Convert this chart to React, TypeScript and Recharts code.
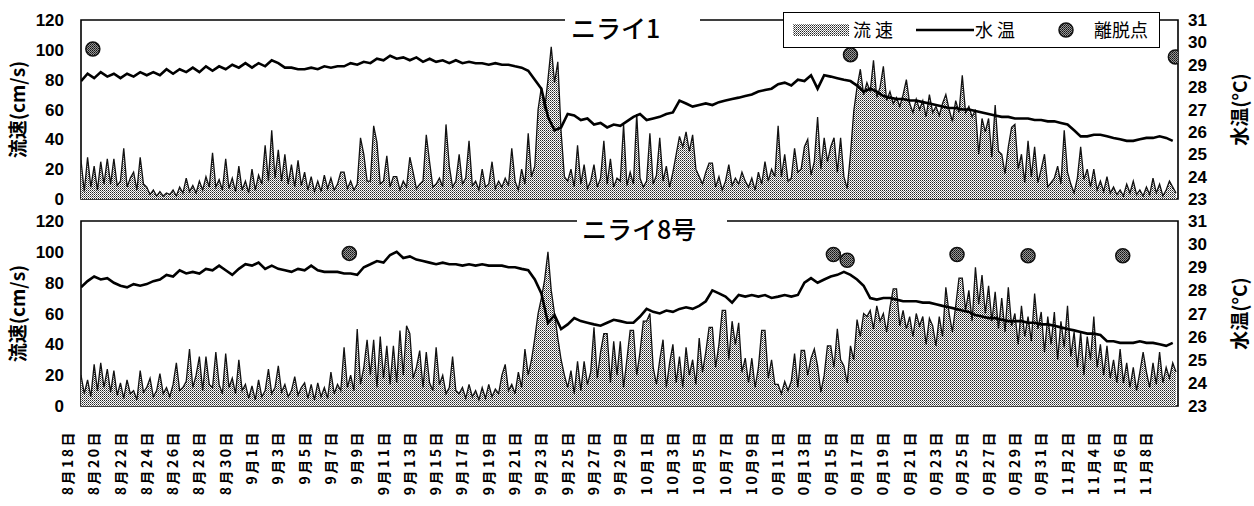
import { ComposedChart, Area, Line, Scatter, XAxis, YAxis, ReferenceArea } from "recharts"

const NUM_FONT = "'Liberation Sans', Arial, sans-serif"
const JP_FONT = "'Noto Sans CJK JP', 'Noto Sans CJK SC', sans-serif"

// x axis: days counted from 8/18, one label every 2 days
const dateLabels = [
  "8月18日", "8月20日", "8月22日", "8月24日", "8月26日", "8月28日", "8月30日",
  "9月1日", "9月3日", "9月5日", "9月7日", "9月9日", "9月11日", "9月13日", "9月15日",
  "9月17日", "9月19日", "9月21日", "9月23日", "9月25日", "9月27日", "9月29日",
  "10月1日", "10月3日", "10月5日", "10月7日", "10月9日",
  "0月11日", "0月13日", "0月15日", "0月17日", "0月19日", "0月21日", "0月23日",
  "0月25日", "0月27日", "0月29日", "0月31日",
  "11月2日", "11月4日", "11月6日", "11月8日",
]
const dateTicks = dateLabels.map((_, i) => i * 2)
const flowTicks = [0, 20, 40, 60, 80, 100, 120]
const tempTicks = [23, 24, 25, 26, 27, 28, 29, 30, 31]

// ニライ1 : 流速 (cm/s) every 6 hours from 8/19 0:00
const flow1 = [
  26, 5, 28, 8, 22, 6, 25, 10, 27, 10, 27, 9, 12, 34, 8, 14, // 8/19-
  18, 6, 28, 10, 8, 3, 6, 2, 5, 2, 4, 3, 6, 2, 8, 4, // 8/23-
  14, 5, 9, 4, 12, 6, 15, 8, 31, 8, 13, 6, 27, 7, 14, 5, // 8/27-
  22, 6, 12, 4, 20, 6, 16, 10, 36, 12, 46, 14, 33, 12, 30, 10, // 8/31-
  23, 8, 26, 9, 18, 6, 15, 5, 12, 5, 16, 7, 14, 6, 10, 18, // 9/4-
  18, 7, 12, 6, 10, 41, 30, 12, 12, 49, 38, 10, 12, 29, 8, 15, // 9/8-
  15, 6, 12, 8, 28, 18, 7, 10, 12, 43, 25, 8, 10, 14, 8, 50, // 9/12-
  22, 8, 12, 30, 10, 14, 39, 9, 12, 6, 20, 8, 10, 25, 7, 12, // 9/16-
  8, 14, 9, 34, 12, 6, 20, 10, 44, 15, 22, 60, 75, 60, 80, 102, // 9/20-
  78, 92, 45, 15, 12, 20, 8, 36, 10, 23, 7, 12, 23, 8, 14, 39, // 9/24-
  10, 27, 8, 14, 12, 50, 9, 18, 10, 57, 14, 8, 12, 44, 10, 16, // 9/28-
  41, 12, 22, 8, 18, 30, 42, 35, 45, 32, 43, 20, 15, 10, 18, 24, // 10/2-
  24, 8, 15, 6, 12, 23, 9, 14, 10, 18, 12, 8, 14, 6, 18, 10, // 10/6-
  25, 12, 20, 15, 49, 15, 30, 12, 14, 34, 18, 20, 35, 40, 16, 25, // 10/10-
  55, 20, 41, 25, 35, 41, 18, 41, 15, 7, 30, 59, 75, 87, 70, 78, // 10/14-
  72, 93, 68, 75, 89, 66, 72, 64, 68, 62, 70, 80, 64, 58, 67, 60, // 10/18-
  66, 55, 70, 58, 62, 56, 64, 70, 60, 52, 66, 58, 83, 58, 62, 55, // 10/22-
  60, 30, 54, 45, 54, 28, 63, 32, 30, 17, 35, 48, 50, 20, 30, 11, // 10/26-
  39, 15, 35, 11, 20, 30, 8, 11, 14, 22, 10, 46, 18, 10, 4, 14, // 10/30-
  35, 13, 20, 8, 20, 6, 12, 5, 15, 4, 8, 3, 6, 2, 10, 4, // 11/3-
  12, 3, 6, 2, 8, 3, 14, 4, 10, 2, 6, 12, 8, 4, // 11/7-
]

// ニライ1 : 水温 (°C) every 12 hours from 8/19 0:00
const temp1 = [
  28.27, 28.6, 28.4, 28.67, 28.47, 28.6, 28.4, 28.6,
  28.47, 28.67, 28.53, 28.67, 28.53, 28.8, 28.6, 28.8,
  28.67, 28.87, 28.67, 28.93, 28.73, 28.93, 28.8, 29.0,
  28.87, 29.07, 28.87, 29.07, 28.93, 29.2, 29.07, 28.87,
  28.87, 28.8, 28.8, 28.87, 28.8, 28.93, 28.87, 28.93,
  28.93, 29.07, 29.0, 29.13, 29.07, 29.27, 29.2, 29.4,
  29.27, 29.33, 29.2, 29.33, 29.13, 29.27, 29.13, 29.2,
  29.07, 29.2, 29.07, 29.13, 29.07, 29.07, 29.0, 29.07,
  29.0, 29.0, 28.93, 28.87, 28.73, 28.33, 27.93, 26.67,
  26.07, 26.2, 26.8, 26.73, 26.53, 26.6, 26.33, 26.4,
  26.2, 26.33, 26.27, 26.47, 26.67, 26.8, 26.53, 26.6,
  26.67, 26.8, 26.87, 27.4, 27.27, 27.13, 27.2, 27.27,
  27.2, 27.33, 27.4, 27.47, 27.53, 27.6, 27.67, 27.8,
  27.87, 27.93, 28.13, 28.2, 28.07, 28.33, 28.27, 28.53,
  27.93, 28.53, 28.47, 28.4, 28.33, 28.27, 28.07, 27.8,
  27.93, 27.8, 27.6, 27.53, 27.47, 27.47, 27.4, 27.4,
  27.33, 27.27, 27.2, 27.13, 27.07, 27.07, 27.0, 27.0,
  26.93, 26.87, 26.8, 26.73, 26.67, 26.67, 26.6, 26.6,
  26.6, 26.53, 26.53, 26.47, 26.47, 26.4, 26.33, 26.07,
  25.8, 25.8, 25.87, 25.87, 25.8, 25.73, 25.67, 25.6,
  25.6, 25.67, 25.73, 25.73, 25.8, 25.73, 25.6,
]

// ニライ1 : 離脱点
const exitDays1 = [1.9, 59.5, 84.2]
const exitTemps1 = [29.7, 29.45, 29.35]

// ニライ8号 : 流速 (cm/s) every 6 hours from 8/19 0:00
const flow2 = [
  20, 8, 17, 6, 27, 10, 28, 12, 24, 9, 23, 7, 15, 5, 17, 8, // 8/19-
  10, 4, 23, 9, 12, 18, 6, 10, 21, 8, 12, 6, 14, 28, 10, 12, // 8/23-
  16, 37, 12, 20, 32, 10, 32, 14, 12, 35, 14, 8, 34, 12, 18, 8, // 8/27-
  30, 10, 14, 5, 13, 4, 17, 6, 10, 24, 8, 12, 26, 9, 14, 6, // 8/31-
  10, 19, 7, 12, 15, 5, 14, 4, 15, 6, 12, 5, 22, 8, 14, 10, // 9/4-
  38, 12, 20, 10, 50, 14, 25, 43, 20, 43, 12, 45, 18, 39, 14, 39, // 9/8-
  15, 49, 20, 52, 47, 18, 25, 36, 12, 35, 15, 10, 38, 14, 20, 8, // 9/12-
  12, 32, 10, 8, 12, 5, 14, 6, 10, 4, 12, 5, 14, 6, 11, 8, // 9/16-
  20, 27, 10, 14, 8, 22, 12, 37, 20, 30, 44, 60, 70, 82, 100, 75, // 9/20-
  60, 44, 30, 20, 12, 23, 8, 29, 10, 29, 14, 22, 51, 18, 35, 47, // 9/24-
  47, 15, 42, 20, 42, 12, 30, 49, 49, 20, 35, 55, 55, 60, 25, 14, // 9/28-
  30, 43, 12, 28, 40, 15, 32, 12, 38, 20, 30, 14, 44, 22, 35, 51, // 10/2-
  51, 25, 40, 62, 62, 30, 55, 40, 54, 22, 31, 15, 31, 12, 25, 49, // 10/6-
  49, 18, 30, 14, 14, 8, 16, 10, 16, 34, 12, 36, 36, 20, 31, 37, // 10/10-
  26, 9, 20, 39, 39, 25, 50, 30, 26, 15, 39, 30, 56, 45, 60, 58, // 10/14-
  62, 50, 65, 55, 60, 48, 64, 76, 76, 52, 62, 50, 58, 45, 60, 52, // 10/18-
  58, 40, 57, 52, 39, 58, 45, 77, 60, 48, 65, 83, 83, 62, 75, 55, // 10/22-
  90, 66, 85, 60, 78, 55, 74, 50, 70, 48, 77, 52, 60, 40, 65, 45, // 10/26-
  58, 42, 73, 50, 61, 35, 58, 40, 61, 30, 55, 38, 65, 32, 48, 25, // 10/30-
  48, 20, 45, 30, 58, 25, 40, 20, 39, 18, 30, 15, 37, 15, 28, 12, // 11/3-
  25, 10, 22, 35, 22, 12, 28, 14, 35, 15, 25, 18, 28, 22, // 11/7-
]

// ニライ8号 : 水温 (°C) every 12 hours from 8/19 0:00
const temp2 = [
  28.13, 28.4, 28.6, 28.47, 28.53, 28.33, 28.2, 28.13,
  28.27, 28.2, 28.27, 28.4, 28.47, 28.67, 28.6, 28.87,
  28.73, 28.8, 28.73, 28.93, 28.87, 29.07, 28.87, 28.67,
  28.93, 29.13, 29.07, 29.2, 28.93, 29.07, 28.93, 28.87,
  28.8, 28.93, 28.87, 29.07, 28.87, 28.8, 28.8, 28.8,
  28.73, 28.73, 28.67, 29.0, 29.13, 29.27, 29.2, 29.53,
  29.67, 29.4, 29.47, 29.33, 29.27, 29.2, 29.13, 29.2,
  29.13, 29.13, 29.07, 29.13, 29.07, 29.13, 29.07, 29.07,
  29.07, 29.0, 29.0, 28.93, 28.87, 28.47, 27.87, 26.6,
  26.93, 26.33, 26.53, 26.8, 26.67, 26.6, 26.53, 26.47,
  26.6, 26.73, 26.67, 26.6, 26.6, 26.87, 27.2, 27.07,
  27.0, 27.13, 27.07, 27.2, 27.27, 27.2, 27.33, 27.53,
  28.0, 27.87, 27.73, 27.47, 27.8, 27.73, 27.8, 27.73,
  27.8, 27.67, 27.73, 27.8, 27.73, 27.8, 28.33, 28.53,
  28.33, 28.47, 28.6, 28.67, 28.8, 28.67, 28.47, 28.2,
  27.67, 27.6, 27.67, 27.67, 27.6, 27.53, 27.53, 27.53,
  27.47, 27.47, 27.4, 27.33, 27.27, 27.2, 27.13, 27.07,
  26.93, 26.87, 26.8, 26.8, 26.73, 26.67, 26.67, 26.67,
  26.6, 26.6, 26.53, 26.53, 26.47, 26.4, 26.33, 26.27,
  26.2, 26.13, 26.13, 26.07, 25.8, 25.8, 25.73, 25.73,
  25.73, 25.8, 25.73, 25.73, 25.67, 25.6, 25.73,
]

// ニライ8号 : 離脱点
const exitDays2 = [21.4, 58.2, 59.25, 67.6, 73.0, 80.2]
const exitTemps2 = [29.6, 29.55, 29.3, 29.55, 29.5, 29.5]

const X_DOMAIN: [number, number] = [1, 84.4]

function DateTick(props: any) {
  const { x, y, payload } = props
  const label = dateLabels[Math.round(payload.value / 2)]
  return (
    <g transform={`translate(${x},${y + 24}) rotate(-90)`}>
      <text x={0} y={0} dy="0.36em" textAnchor="end" fontSize={14} fontWeight={700}
        fontFamily={JP_FONT} fill="#000" style={{ letterSpacing: "2.5px" }}>
        {label}
      </text>
    </g>
  )
}

const ExitDot = (p: any) => (
  <circle cx={p.cx} cy={p.cy} r={7} fill="url(#stippleDark)" stroke="#111" strokeWidth={1.5} />
)

const tickStyle = { fontSize: 17, fontWeight: 700, fill: "#000", fontFamily: NUM_FONT }
const titleStyle = { textAnchor: "middle", fontSize: 19, fontWeight: 700, fill: "#000", fontFamily: JP_FONT } as any

function Panel({ flow, temp, exitDays, exitTemps, height, top, bottom, showDates }: any) {
  const flowData = flow.map((v: number, i: number) => ({ t: 1 + i * 0.25, v }))
  const tempData = temp.map((T: number, i: number) => ({ t: 1 + i * 0.5, T }))
  const exitData = exitDays.map((t: number, i: number) => ({ t, T: exitTemps[i] }))

  return (
    <ComposedChart width={1254} height={height} margin={{ top, right: 0, bottom: showDates ? 0 : bottom, left: 0 }}>
      <XAxis
        type="number"
        dataKey="t"
        domain={X_DOMAIN}
        allowDataOverflow
        ticks={dateTicks}
        interval={0}
        hide={!showDates}
        height={bottom}
        tickLine={false}
        axisLine={false}
        tickSize={0}
        tickMargin={0}
        tick={<DateTick />}
      />
      <YAxis
        yAxisId="L"
        domain={[0, 120]}
        ticks={flowTicks}
        interval={0}
        width={81}
        tickLine={false}
        axisLine={false}
        tickSize={0}
        tickMargin={17}
        tick={tickStyle}
        label={{ value: "流速(cm/s)", angle: -90, position: "insideLeft", offset: 18, style: titleStyle }}
      />
      <YAxis
        yAxisId="T"
        orientation="right"
        domain={[23, 31]}
        ticks={tempTicks}
        interval={0}
        width={76}
        tickLine={false}
        axisLine={false}
        tickSize={0}
        tickMargin={10}
        tick={tickStyle}
        label={{ value: "水温(°C)", angle: -90, position: "insideRight", offset: 14, style: titleStyle }}
      />
      <ReferenceArea yAxisId="L" x1={X_DOMAIN[0]} x2={X_DOMAIN[1]} y1={0} y2={120}
        fill="none" stroke="#000" strokeWidth={1.6} />
      <Area yAxisId="L" data={flowData} dataKey="v" type="linear" stroke="#111" strokeWidth={1.3}
        fill="url(#stipple)" fillOpacity={1} dot={false} activeDot={false} isAnimationActive={false} />
      <Line yAxisId="T" data={tempData} dataKey="T" type="linear" stroke="#000" strokeWidth={2.6}
        dot={false} activeDot={false} isAnimationActive={false} />
      <Scatter yAxisId="T" data={exitData} dataKey="T" shape={ExitDot} isAnimationActive={false} />
    </ComposedChart>
  )
}

export default function App() {
  return (
    <div style={{ position: "absolute", left: 0, top: 0, width: 1254, height: 506, background: "#fff", overflow: "hidden" }}>
      <svg width={0} height={0} style={{ position: "absolute" }}>
        <defs>
          <pattern id="stipple" width={2} height={2} patternUnits="userSpaceOnUse">
            <rect width={2} height={2} fill="#fff" />
            <rect width={1} height={1} fill="#222" />
            <rect x={1} y={1} width={1} height={1} fill="#777" />
          </pattern>
          <pattern id="stippleDark" width={2} height={2} patternUnits="userSpaceOnUse">
            <rect width={2} height={2} fill="#999" />
            <rect width={1} height={1} fill="#111" />
            <rect x={1} y={1} width={1} height={1} fill="#333" />
          </pattern>
        </defs>
      </svg>

      <div style={{ position: "absolute", left: 0, top: 0 }}>
        <Panel flow={flow1} temp={temp1} exitDays={exitDays1} exitTemps={exitTemps1}
          height={210} top={20} bottom={11} showDates={false} />
      </div>
      <div style={{ position: "absolute", left: 0, top: 210 }}>
        <Panel flow={flow2} temp={temp2} exitDays={exitDays2} exitTemps={exitTemps2}
          height={296} top={11} bottom={100} showDates={true} />
      </div>

      {/* panel titles sit on the top frame line */}
      <div style={{ position: "absolute", left: 565, top: 13, width: 135, height: 28, paddingLeft: 6, boxSizing: "border-box",
        background: "#fff", fontFamily: JP_FONT, fontSize: 25, lineHeight: "28px", fontWeight: 500 }}>
        ニライ1
      </div>
      <div style={{ position: "absolute", left: 577, top: 214, width: 150, height: 28, paddingLeft: 5, boxSizing: "border-box",
        background: "#fff", fontFamily: JP_FONT, fontSize: 25, lineHeight: "28px", fontWeight: 500 }}>
        ニライ8号
      </div>

      {/* legend */}
      <div style={{ position: "absolute", left: 783, top: 12, width: 377, height: 36, border: "1.5px solid #000",
        boxSizing: "border-box", background: "#fff", fontFamily: JP_FONT, fontSize: 18, lineHeight: "33px" }}>
        <svg width={377} height={36} style={{ position: "absolute", left: 0, top: 0 }}>
          <rect x={9} y={11} width={56} height={12} fill="url(#stipple)" />
          <line x1={132} y1={17} x2={190} y2={17} stroke="#000" strokeWidth={2.6} />
          <circle cx={282} cy={17} r={7} fill="url(#stippleDark)" stroke="#111" strokeWidth={1.5} />
        </svg>
        <span style={{ position: "absolute", left: 69, top: 0 }}>流 速</span>
        <span style={{ position: "absolute", left: 191, top: 0 }}>水 温</span>
        <span style={{ position: "absolute", left: 310, top: 0 }}>離脱点</span>
      </div>
    </div>
  )
}
